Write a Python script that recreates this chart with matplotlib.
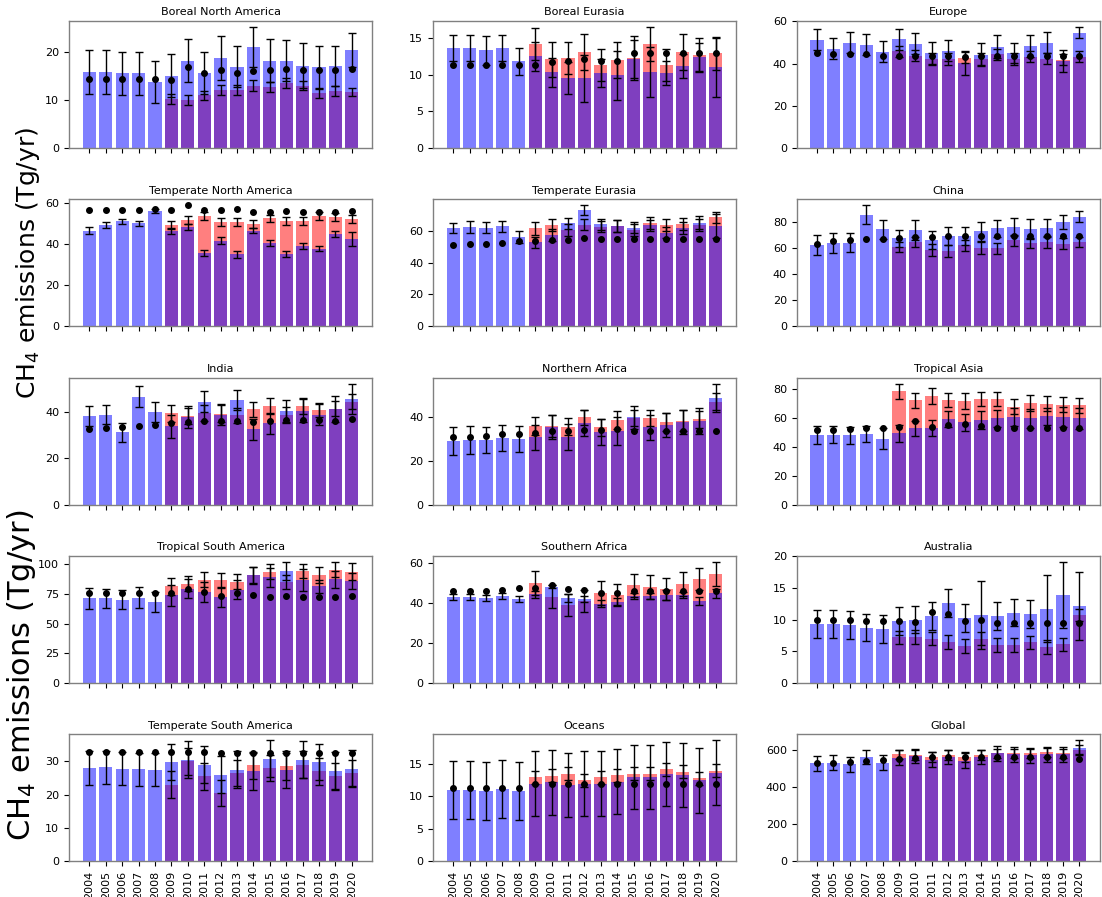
import numpy as np
import matplotlib
matplotlib.use("Agg")
import matplotlib.pyplot as plt

years = list(range(2004, 2021))
years_b = list(range(2009, 2021))

# --- Boreal North America
bna_a = [15.8, 15.8, 15.5, 15.5, 13.7, 15.0, 18.1, 15.6, 18.7, 16.9, 21.0, 18.1, 18.1, 17.1, 16.8, 17.0, 20.3]
bna_a_err = [4.6, 4.6, 4.5, 4.5, 4.4, 4.4, 4.5, 4.4, 4.5, 4.3, 4.1, 4.5, 4.3, 4.6, 4.3, 4.2, 3.6]
bna_b = [10.2, 9.9, 10.9, 12.0, 12.0, 12.9, 12.6, 13.5, 12.9, 11.3, 11.8, 11.6]
bna_b_err = [1.0, 1.0, 0.9, 1.1, 1.0, 1.1, 1.0, 1.1, 0.9, 1.0, 1.0, 0.9]
bna_prior = [14.3, 14.3, 14.3, 14.3, 14.3, 14.2, 16.8, 15.5, 16.2, 15.5, 15.9, 16.2, 16.4, 16.2, 16.2, 16.2, 16.4]

# --- Boreal Eurasia
beu_a = [13.6, 13.6, 13.3, 13.6, 11.8, 12.5, 10.3, 9.5, 9.5, 10.2, 9.9, 12.1, 10.4, 10.2, 11.2, 12.4, 11.0]
beu_a_err = [1.8, 1.8, 2.0, 1.8, 1.85, 1.95, 2.0, 2.2, 3.2, 1.9, 3.3, 2.6, 3.4, 1.6, 1.6, 1.9, 4.0]
beu_b = [14.2, 12.1, 12.3, 13.1, 11.3, 12.0, 12.3, 14.2, 11.3, 13.1, 12.7, 12.9]
beu_b_err = [2.2, 2.4, 2.2, 2.4, 2.2, 2.4, 3.0, 2.3, 2.2, 2.4, 2.3, 2.3]
beu_prior = [11.3, 11.3, 11.3, 11.3, 11.3, 11.3, 11.7, 11.8, 12.1, 11.8, 11.9, 12.9, 12.9, 12.9, 12.9, 12.9, 12.9]

# --- Europe
eur_a = [51.2, 47.1, 49.9, 49.0, 45.7, 51.5, 49.3, 44.9, 46.1, 40.3, 44.2, 48.0, 44.9, 48.3, 49.9, 41.4, 54.7]
eur_a_err = [5.0, 5.1, 5.0, 5.0, 5.2, 5.0, 5.0, 5.2, 5.1, 5.6, 5.4, 5.4, 4.7, 5.1, 5.1, 5.2, 2.6]
eur_b = [45.8, 43.6, 42.3, 42.3, 42.8, 42.0, 44.5, 42.0, 43.3, 42.3, 41.9, 43.3]
eur_b_err = [2.6, 2.6, 2.8, 2.8, 2.6, 2.8, 2.6, 2.8, 2.6, 2.6, 2.6, 2.6]
eur_prior = [45.2, 44.4, 44.4, 44.4, 43.8, 43.4, 43.4, 43.4, 43.4, 43.0, 43.4, 43.4, 43.4, 43.4, 43.4, 43.4, 43.4]

# --- Temperate North America
tna_a = [46.7, 49.4, 51.2, 50.2, 56.3, 46.3, 48.5, 35.8, 41.8, 35.1, 46.5, 40.7, 35.3, 39.3, 37.9, 45.0, 42.6]
tna_a_err = [1.6, 1.7, 1.2, 1.2, 1.0, 1.5, 1.5, 1.6, 1.6, 1.6, 1.2, 1.5, 1.3, 1.5, 1.3, 1.3, 3.3]
tna_b = [49.4, 51.7, 53.8, 50.9, 50.9, 49.9, 52.7, 51.2, 51.5, 53.8, 53.5, 52.4]
tna_b_err = [2.0, 2.0, 2.0, 2.0, 2.0, 2.0, 1.8, 2.0, 2.0, 1.8, 2.0, 2.0]
tna_prior = [56.9, 56.9, 56.9, 56.9, 57.2, 56.9, 59.0, 56.6, 56.9, 57.2, 55.9, 55.8, 56.1, 55.8, 55.8, 55.8, 56.1]

# --- Temperate Eurasia
teu_a = [62.0, 62.4, 62.0, 62.8, 56.1, 52.8, 57.4, 64.7, 72.9, 64.1, 63.0, 62.0, 63.5, 58.8, 61.8, 65.1, 63.0]
teu_a_err = [3.2, 3.5, 3.4, 3.3, 3.5, 3.5, 3.8, 3.5, 3.1, 3.5, 3.6, 3.5, 3.5, 3.6, 3.6, 4.0, 7.5]
teu_b = [61.6, 63.7, 60.5, 63.9, 62.6, 62.8, 60.7, 64.9, 63.7, 64.3, 63.9, 68.5]
teu_b_err = [4.0, 4.0, 3.8, 3.5, 3.5, 3.8, 3.8, 3.5, 3.8, 3.5, 3.8, 3.6]
teu_prior = [50.9, 51.7, 51.9, 52.4, 53.4, 53.4, 54.2, 54.5, 55.3, 54.9, 54.9, 55.0, 55.0, 55.0, 55.0, 55.0, 55.0]

# --- China
chn_a = [62.4, 64.0, 64.0, 85.5, 74.1, 67.3, 73.6, 65.7, 69.0, 69.0, 72.8, 75.1, 76.1, 74.6, 75.6, 79.7, 84.0]
chn_a_err = [7.7, 7.6, 7.2, 7.1, 7.3, 6.6, 7.4, 6.9, 6.9, 6.9, 7.2, 6.4, 6.9, 7.6, 6.6, 5.6, 4.3]
chn_b = [60.7, 64.7, 58.6, 57.6, 61.9, 60.2, 59.6, 65.7, 63.7, 64.2, 63.2, 64.7]
chn_b_err = [4.1, 4.0, 4.5, 4.3, 4.0, 4.6, 4.0, 4.0, 4.0, 4.4, 4.3, 3.8]
chn_prior = [63.2, 65.2, 66.0, 66.5, 67.0, 67.3, 68.0, 68.0, 69.0, 68.8, 69.3, 69.3, 69.3, 69.3, 69.3, 69.3, 69.3]

# --- India
ind_a = [38.0, 38.7, 31.0, 46.4, 39.7, 33.7, 37.7, 44.3, 38.7, 44.9, 32.4, 34.9, 40.3, 40.4, 38.7, 41.0, 45.4]
ind_a_err = [4.3, 4.1, 4.1, 4.4, 4.4, 4.9, 4.7, 4.6, 4.5, 4.3, 4.5, 4.5, 4.6, 5.0, 4.5, 5.5, 6.6]
ind_b = [39.3, 38.1, 39.3, 39.1, 38.3, 40.9, 42.4, 38.6, 42.4, 40.7, 41.2, 44.3]
ind_b_err = [3.6, 3.6, 3.5, 3.6, 3.4, 3.4, 3.6, 3.4, 3.5, 3.0, 3.2, 3.4]
ind_prior = [32.4, 32.9, 33.4, 33.9, 34.4, 35.0, 35.6, 36.0, 35.9, 35.9, 35.6, 36.1, 36.4, 36.3, 36.3, 36.1, 36.6]

# --- Northern Africa
naf_a = [29.3, 29.6, 29.6, 30.5, 29.9, 30.8, 35.7, 31.0, 37.4, 33.4, 33.9, 40.0, 35.4, 36.5, 38.0, 38.5, 49.0]
naf_a_err = [6.5, 6.5, 6.0, 6.0, 6.0, 5.8, 5.5, 6.0, 6.0, 6.0, 6.5, 5.3, 5.8, 5.6, 5.6, 5.9, 6.5]
naf_b = [36.0, 36.0, 35.7, 40.0, 35.4, 38.8, 39.7, 39.7, 37.9, 38.5, 39.1, 47.2]
naf_b_err = [4.0, 5.0, 4.0, 3.5, 4.0, 4.0, 3.7, 3.8, 4.3, 4.8, 4.0, 4.0]
naf_prior = [30.8, 31.1, 31.6, 32.2, 32.5, 32.7, 33.7, 33.9, 34.4, 34.4, 34.7, 33.9, 33.9, 33.9, 33.9, 33.9, 33.9]

# --- Tropical Asia
tas_a = [47.8, 48.3, 47.8, 49.0, 45.5, 49.2, 52.6, 53.1, 59.1, 56.8, 58.4, 59.5, 60.7, 59.5, 60.9, 60.7, 59.5]
tas_a_err = [6.2, 6.0, 6.0, 5.6, 7.4, 6.0, 5.0, 5.5, 5.5, 6.0, 6.0, 6.0, 6.3, 6.5, 6.0, 7.0, 7.0]
tas_b = [78.2, 72.0, 75.2, 72.2, 71.7, 73.1, 73.1, 67.6, 70.1, 69.7, 69.0, 68.7]
tas_b_err = [5.4, 5.3, 5.5, 5.0, 5.5, 4.8, 4.8, 5.3, 5.5, 5.3, 5.3, 5.3]
tas_prior = [51.3, 51.7, 52.2, 52.6, 52.9, 53.6, 57.5, 53.8, 54.9, 55.9, 54.0, 52.6, 52.9, 52.6, 52.6, 52.6, 52.6]

# --- Tropical South America
tsa_a = [71.3, 71.3, 70.2, 71.9, 68.0, 73.9, 79.5, 77.0, 72.2, 78.4, 91.0, 89.0, 94.1, 86.8, 81.5, 87.4, 86.0]
tsa_a_err = [9.0, 8.0, 8.0, 8.7, 8.3, 9.0, 8.0, 8.5, 8.5, 8.0, 7.0, 8.0, 7.7, 9.0, 5.5, 7.0, 7.0]
tsa_b = [81.5, 83.7, 87.1, 86.5, 85.4, 90.7, 93.8, 85.4, 94.4, 90.7, 95.5, 93.8]
tsa_b_err = [7.0, 6.5, 6.0, 6.5, 6.5, 7.0, 6.5, 6.0, 6.0, 6.8, 6.5, 7.0]
tsa_prior = [75.8, 75.8, 75.8, 75.8, 75.8, 75.8, 79.5, 76.4, 73.6, 75.8, 74.4, 72.8, 73.3, 72.8, 72.8, 72.8, 73.3]

# --- Southern Africa
saf_a = [43.0, 43.0, 42.5, 43.3, 42.2, 44.3, 48.1, 42.4, 41.9, 39.6, 40.6, 43.5, 43.5, 43.8, 44.0, 41.2, 44.8]
saf_a_err = [1.5, 1.5, 1.5, 1.5, 1.5, 1.8, 0.8, 2.0, 1.5, 1.8, 1.8, 1.5, 1.5, 2.5, 1.5, 2.0, 2.3]
saf_b = [50.2, 43.2, 39.1, 41.0, 45.0, 44.0, 48.8, 47.9, 47.1, 49.6, 52.1, 54.5]
saf_b_err = [6.0, 5.8, 5.6, 5.6, 5.8, 5.7, 5.8, 5.9, 5.5, 5.9, 5.6, 6.0]
saf_prior = [45.8, 46.1, 46.1, 46.6, 47.3, 47.3, 48.9, 46.8, 46.6, 45.2, 44.8, 46.1, 46.1, 46.1, 46.1, 46.1, 46.1]

# --- Australia
aus_a = [9.3, 9.3, 9.1, 8.7, 8.5, 9.8, 10.0, 10.6, 12.6, 10.2, 10.7, 10.6, 11.1, 10.9, 11.7, 13.9, 12.1]
aus_a_err = [2.2, 2.2, 2.2, 2.15, 2.2, 2.2, 2.2, 2.2, 2.2, 2.2, 5.4, 2.2, 2.2, 2.2, 5.3, 5.2, 5.4]
aus_b = [7.2, 7.2, 7.0, 6.5, 5.8, 7.0, 6.0, 6.0, 6.4, 5.7, 6.1, 10.7]
aus_b_err = [1.0, 1.1, 1.1, 1.1, 1.1, 1.1, 1.1, 1.1, 1.0, 1.1, 1.0, 1.0]
aus_prior = [9.9, 10.0, 9.9, 9.8, 9.7, 9.8, 9.6, 11.2, 10.9, 9.7, 10.0, 9.4, 9.4, 9.4, 9.4, 9.4, 9.4]

# --- Temperate South America
tsm_a = [28.0, 28.2, 27.8, 27.6, 27.5, 29.8, 30.5, 29.0, 26.0, 27.5, 27.0, 30.8, 27.5, 30.5, 29.8, 27.2, 27.8]
tsm_a_err = [5.0, 5.0, 5.0, 5.0, 5.0, 5.5, 5.5, 5.5, 5.5, 5.5, 5.5, 5.5, 5.5, 5.5, 5.5, 5.5, 5.5]
tsm_b = [23.0, 30.0, 25.5, 20.5, 26.5, 28.8, 28.0, 28.5, 29.0, 27.0, 25.5, 26.5]
tsm_b_err = [4.0, 4.0, 4.0, 4.0, 4.0, 4.0, 4.0, 4.0, 4.0, 4.0, 4.0, 4.0]
tsm_prior = [32.8, 32.8, 32.8, 32.8, 32.8, 32.8, 32.8, 32.8, 32.5, 32.5, 32.5, 32.5, 32.5, 32.5, 32.5, 32.5, 32.5]

# --- Oceans
ocn_a = [11.0, 11.0, 10.8, 11.2, 10.8, 12.0, 12.2, 11.8, 12.0, 12.0, 12.3, 13.0, 13.0, 13.5, 13.3, 12.5, 13.7]
ocn_a_err = [4.5, 4.5, 4.5, 4.5, 4.5, 5.0, 5.0, 5.0, 5.0, 5.0, 5.0, 5.0, 5.0, 5.0, 5.0, 5.0, 5.0]
ocn_b = [13.0, 13.2, 13.5, 12.5, 13.0, 13.3, 13.5, 13.5, 14.2, 13.8, 12.8, 14.0]
ocn_b_err = [1.0, 1.0, 1.0, 1.0, 1.0, 1.0, 1.0, 1.0, 1.0, 1.0, 1.0, 1.0]
ocn_prior = [11.3, 11.3, 11.3, 11.3, 11.3, 12.0, 12.0, 12.0, 12.0, 12.0, 12.0, 12.0, 12.0, 12.0, 12.0, 12.0, 12.0]

# --- Global
glb_a = [525, 530, 520, 560, 530, 555, 565, 545, 560, 540, 560, 580, 575, 570, 575, 575, 610]
glb_a_err = [40, 40, 40, 40, 40, 40, 40, 40, 40, 40, 40, 40, 40, 40, 40, 40, 40]
glb_b = [575, 570, 560, 570, 560, 570, 580, 580, 580, 585, 580, 600]
glb_b_err = [25, 25, 25, 25, 25, 25, 25, 25, 25, 25, 25, 25]
glb_prior = [530, 530, 535, 540, 545, 550, 555, 560, 560, 560, 560, 560, 560, 560, 560, 560, 550]

panels = [
    ("Boreal North America", bna_a, bna_a_err, bna_b, bna_b_err, bna_prior),
    ("Boreal Eurasia", beu_a, beu_a_err, beu_b, beu_b_err, beu_prior),
    ("Europe", eur_a, eur_a_err, eur_b, eur_b_err, eur_prior),
    ("Temperate North America", tna_a, tna_a_err, tna_b, tna_b_err, tna_prior),
    ("Temperate Eurasia", teu_a, teu_a_err, teu_b, teu_b_err, teu_prior),
    ("China", chn_a, chn_a_err, chn_b, chn_b_err, chn_prior),
    ("India", ind_a, ind_a_err, ind_b, ind_b_err, ind_prior),
    ("Northern Africa", naf_a, naf_a_err, naf_b, naf_b_err, naf_prior),
    ("Tropical Asia", tas_a, tas_a_err, tas_b, tas_b_err, tas_prior),
    ("Tropical South America", tsa_a, tsa_a_err, tsa_b, tsa_b_err, tsa_prior),
    ("Southern Africa", saf_a, saf_a_err, saf_b, saf_b_err, saf_prior),
    ("Australia", aus_a, aus_a_err, aus_b, aus_b_err, aus_prior),
    ("Temperate South America", tsm_a, tsm_a_err, tsm_b, tsm_b_err, tsm_prior),
    ("Oceans", ocn_a, ocn_a_err, ocn_b, ocn_b_err, ocn_prior),
    ("Global", glb_a, glb_a_err, glb_b, glb_b_err, glb_prior),
]

fig, axes = plt.subplots(5, 3, figsize=(11.02, 8.97), dpi=100)
fig.subplots_adjust(left=0.0626, right=0.998, top=0.9766, bottom=0.040,
                    wspace=0.20, hspace=0.405)

err_kw = dict(ecolor="black", capsize=3, elinewidth=1.0, capthick=1.0)

for ax, (title, a, a_err, b, b_err, prior) in zip(axes.flat, panels):
    ax.bar(years_b, b, width=0.8, color="red", alpha=0.5, yerr=b_err, error_kw=err_kw)
    ax.bar(years, a, width=0.8, color="blue", alpha=0.5, yerr=a_err, error_kw=err_kw)
    ax.plot(years, prior, "o", color="black", markersize=4)
    ax.set_title(title, fontsize=8, pad=4)
    ax.set_xticks(years)
    ax.tick_params(labelsize=8, length=3.5, width=0.8)
    for s in ax.spines.values():
        s.set_color("0.5")
        s.set_linewidth(1.0)
    if ax in axes[-1]:
        ax.set_xticklabels([str(y) for y in years], rotation=90)
    else:
        ax.set_xticklabels([])

# Shared y labels: one beside the upper rows, a larger one beside the lower rows
axes[1, 0].set_ylabel("CH$_4$ emissions (Tg/yr)", fontsize=18, labelpad=2)
fig.text(0.0195, 0.2475, "CH$_4$ emissions (Tg/yr)", fontsize=22,
         rotation=90, ha="center", va="center")

fig.savefig("out.png", dpi=100)
